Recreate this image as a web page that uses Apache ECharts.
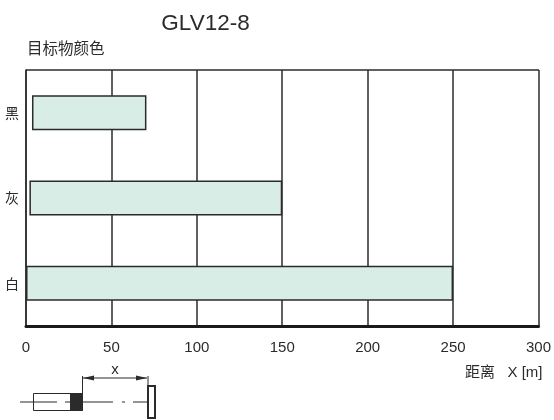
<!DOCTYPE html>
<html>
<head>
<meta charset="utf-8">
<style>html,body{margin:0;padding:0;background:#fff}#chart{width:554px;height:420px}</style>
<script src="https://cdn.jsdelivr.net/npm/echarts@6/dist/echarts.min.js"></script>
</head>
<body>
<div id="chart"></div>
<script>
var categories = ['白', '灰', '黑'];
var rangeStart = [0, 2, 3.5];
var rangeEnd = [250, 150, 70.5];
var xTicks = [0, 50, 100, 150, 200, 250, 300];

var inkColor = '#2b2b2b';
var textFont = '"Liberation Sans", "Noto Sans CJK SC", sans-serif';
var chart = echarts.init(document.getElementById('chart'));

// sensor sketch below the axis
function sensorSketch() {
  var line = function (x1, y1, x2, y2, w, dash) {
    return {type: 'line', shape: {x1: x1, y1: y1, x2: x2, y2: y2},
      style: {stroke: inkColor, lineWidth: w || 1, lineDash: dash || null}};
  };
  return [
    line(20, 402, 57, 402),
    line(65, 402, 70, 402),
    line(83, 402, 113, 402),
    line(122, 402, 125, 402),
    line(133, 402, 147, 402),
    {type: 'rect', shape: {x: 33.5, y: 393.5, width: 37, height: 17},
      style: {fill: 'none', stroke: inkColor, lineWidth: 1}},
    {type: 'rect', shape: {x: 70, y: 393, width: 13, height: 18}, style: {fill: inkColor}},
    {type: 'rect', shape: {x: 148, y: 386, width: 7, height: 32},
      style: {fill: '#fff', stroke: inkColor, lineWidth: 2}},
    line(82.5, 376, 82.5, 393),
    line(148, 376, 148, 386),
    line(83, 378, 147, 378),
    {type: 'polygon', shape: {points: [[83, 378], [94, 375.5], [94, 380.5]]}, style: {fill: inkColor}},
    {type: 'polygon', shape: {points: [[147, 378], [136, 375.5], [136, 380.5]]}, style: {fill: inkColor}},
    {type: 'text', x: 115, y: 370, style: {text: 'x', fill: inkColor, font: '15px ' + textFont, align: 'center', verticalAlign: 'middle'}}
  ];
}

chart.setOption({
  animation: false,
  backgroundColor: '#fff',
  title: {
    text: 'GLV12-8',
    left: 200.5,
    top: 8,
    textAlign: 'center',
    textStyle: {color: inkColor, fontSize: 22.5, fontWeight: 'normal', fontFamily: textFont}
  },
  grid: {left: 26, right: 15, top: 70, bottom: 94},
  xAxis: {
    type: 'value',
    min: xTicks[0],
    max: xTicks[xTicks.length - 1],
    interval: 50,
    name: '距离   X [m]',
    nameLocation: 'end',
    nameGap: 0,
    nameTextStyle: {color: inkColor, fontSize: 15, fontFamily: textFont, align: 'right', verticalAlign: 'top', padding: [39, -4, 0, 0]},
    axisLine: {show: true, lineStyle: {color: '#1a1a1a', width: 3}},
    axisTick: {show: false},
    axisLabel: {color: inkColor, fontSize: 15, margin: 14, fontFamily: textFont, showMinLabel: true, showMaxLabel: true},
    splitLine: {show: true, lineStyle: {color: inkColor, width: 1.5}}
  },
  yAxis: {
    type: 'category',
    data: categories,
    name: '目标物颜色',
    nameLocation: 'end',
    nameGap: 14,
    nameTextStyle: {color: inkColor, fontSize: 15.5, fontFamily: '"Noto Sans CJK SC", sans-serif', align: 'left', padding: [0, 0, 0, 1]},
    axisLine: {show: true, lineStyle: {color: inkColor, width: 1.5}},
    axisTick: {show: false},
    axisLabel: {color: inkColor, fontSize: 14, margin: 7, fontFamily: '"Noto Sans CJK SC", sans-serif'},
    splitLine: {show: false}
  },
  series: [
    {
      type: 'bar',
      stack: 'range',
      silent: true,
      barWidth: 35,
      itemStyle: {color: 'transparent'},
      data: rangeStart
    },
    {
      type: 'bar',
      stack: 'range',
      silent: true,
      barWidth: 35,
      itemStyle: {color: '#d7ede6', borderColor: inkColor, borderWidth: 1.5},
      data: rangeEnd.map(function (v, i) { return v - rangeStart[i]; })
    }
  ],
  graphic: sensorSketch().concat([
    {type: 'line', shape: {x1: 26, y1: 70, x2: 539, y2: 70}, style: {stroke: inkColor, lineWidth: 1.5}}
  ])
});
</script>
</body>
</html>
